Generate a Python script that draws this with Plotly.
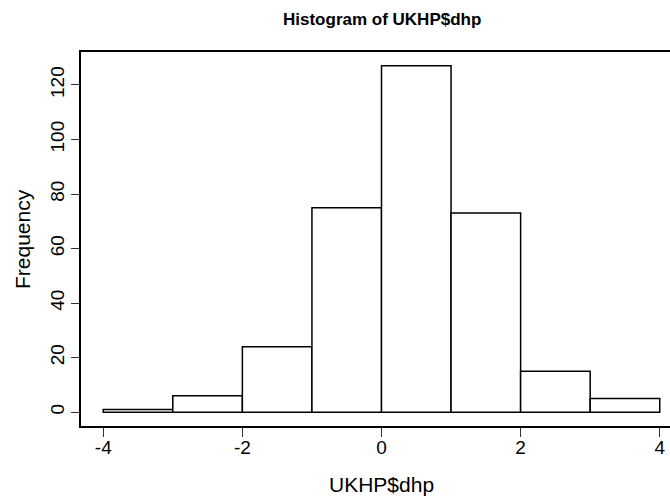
import plotly.graph_objects as go

bin_left = [-4, -3, -2, -1, 0, 1, 2, 3]
counts = [1, 6, 24, 75, 127, 73, 15, 5]
x_ticks = [-4, -2, 0, 2, 4]
y_ticks = [0, 20, 40, 60, 80, 100, 120]

centers = [b + 0.5 for b in bin_left]

fig = go.Figure()
fig.add_trace(go.Bar(
    x=centers, y=counts, width=[1] * len(counts),
    marker=dict(color="white", line=dict(color="black", width=1.5)),
    showlegend=False, cliponaxis=False,
))

font = "Liberation Sans, Arial, sans-serif"
# plot region is wider than the 670px window (as in the cropped original)
fig.update_layout(
    width=682, height=496,
    margin=dict(l=81, r=0, t=52, b=70, autoexpand=False),
    plot_bgcolor="white", paper_bgcolor="white",
    font=dict(family=font, size=19, color="black"),
    xaxis=dict(
        range=[-4.32, 4.32], tickvals=x_ticks, ticktext=[str(v) for v in x_ticks],
        showgrid=False, zeroline=False, showline=True, linecolor="black", linewidth=1.5,
        mirror=True, ticks="outside", ticklen=9, tickcolor="#333", tickwidth=1,
        tickfont=dict(size=19), automargin=False, ticklabelstandoff=-6,
    ),
    yaxis=dict(
        range=[-5.08, 132.08], tickvals=y_ticks, ticktext=[str(v) for v in y_ticks],
        showgrid=False, zeroline=False, showline=True, linecolor="black", linewidth=1.5,
        mirror=False, ticks="outside", ticklen=8, tickcolor="#333", tickwidth=1,
        tickangle=-90, tickfont=dict(size=19), automargin=False,
    ),
    annotations=[
        dict(text="<b>Histogram of UKHP$dhp</b>", xref="x", x=0, yref="paper", y=1,
             yanchor="middle", yshift=33, showarrow=False, font=dict(size=17)),
        dict(text="UKHP$dhp", xref="x", x=0, yref="paper", y=0, yanchor="middle",
             yshift=-58, showarrow=False, font=dict(size=21)),
        dict(text="Frequency", xref="paper", x=0, xanchor="center", xshift=-59,
             yref="paper", y=0.5, textangle=-90, showarrow=False, font=dict(size=21)),
    ],
)

fig.write_html(
    "out.html",
    config={"displayModeBar": False},
    post_script="document.body.style.margin='0';document.body.style.overflow='hidden';",
)
